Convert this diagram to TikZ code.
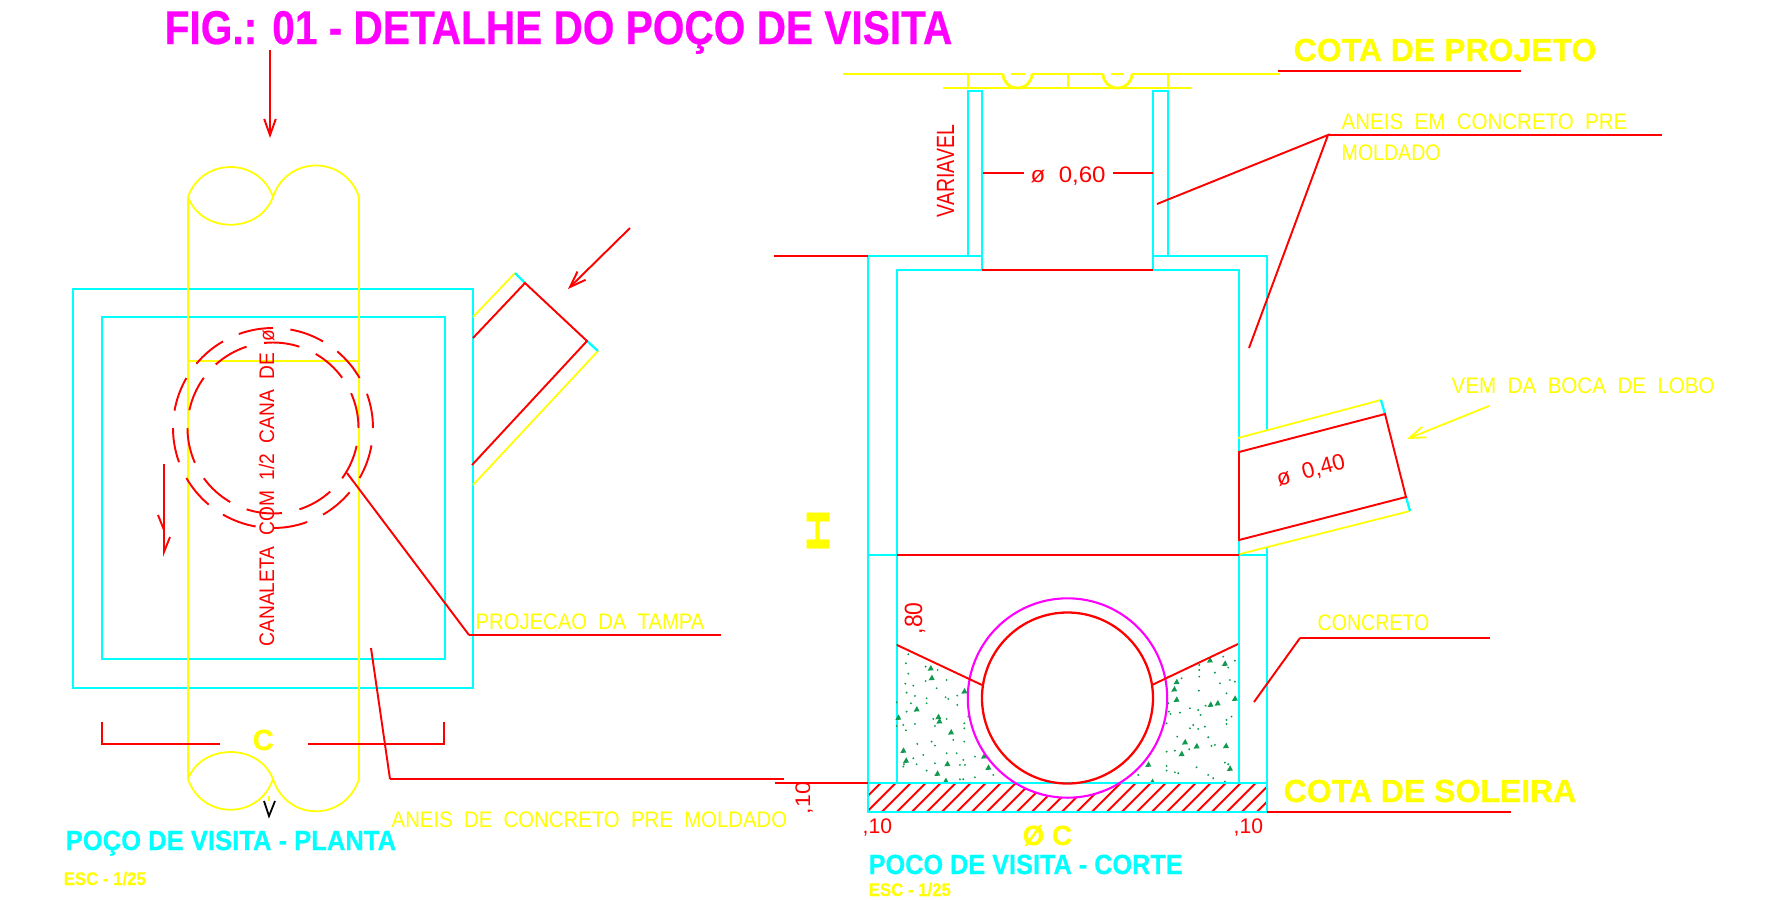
\documentclass[tikz,border=0pt]{standalone}
\usepackage{graphicx}
\usepackage{fontspec}
\setmainfont{Liberation Sans}
\newfontfamily\cadbold[UprightFont=* Bold,FakeBold=0.5]{Liberation Sans}
\usetikzlibrary{arrows.meta}
\definecolor{cadyellow}{HTML}{FFFF00}
\definecolor{cadcyan}{HTML}{00FFFF}
\definecolor{cadred}{HTML}{FF0000}
\definecolor{cadmag}{HTML}{FF00FF}
\definecolor{cadgreen}{HTML}{109A50}
\newcommand{\sq}[2]{\scalebox{#1}[1]{#2}}
\tikzset{
  wall/.style={draw=cadcyan, line width=0.65pt},
  pipe/.style={draw=cadyellow, line width=0.5pt},
  tampa/.style={draw=cadyellow, line width=0.8pt},
  lead/.style={draw=cadred, line width=0.55pt},
  leadb/.style={draw=cadred, line width=0.75pt},
  ring/.style={draw=cadmag, line width=0.6pt},
  barb/.style={-{Straight Barb[length=4.6pt,width=3.3pt]}},
  figtxt/.style={text=cadmag, font=\fontsize{13.5}{13.5}\selectfont\cadbold, inner sep=0pt, anchor=base west},
  cota/.style={text=cadyellow, font=\fontsize{9.1}{9.1}\selectfont\cadbold, inner sep=0pt, anchor=base west},
  legenda/.style={text=cadcyan, font=\fontsize{7.9}{7.9}\selectfont\cadbold, inner sep=0pt, anchor=base west},
  esc/.style={text=cadyellow, font=\fontsize{5.2}{5.2}\selectfont\cadbold, inner sep=0pt, anchor=base west},
  note/.style={text=cadyellow, font=\fontsize{6.4}{6.4}\selectfont, inner sep=0pt, anchor=base west},
  medida/.style={text=cadred, font=\fontsize{6}{6}\selectfont, inner sep=0pt, anchor=base west},
}
\begin{document}
\begin{tikzpicture}[x=0.1mm,y=-0.1mm]
  \useasboundingbox (0,0) rectangle (1775,899);
  \node[figtxt] (figtitle) at (164,44) {\sq{0.856}{FIG.: 01 - DETALHE DO POÇO DE VISITA}};

  % planta
  \draw[wall] (73,289) rectangle (473,688);
  \draw[wall] (102,317) rectangle (445,659);
  \draw[pipe] (188,197) -- (188,779) (359,197) -- (359,779) (188,361) -- (359,361);
  \draw[pipe] (188,197) .. controls (202,157) and (259,157) .. (273,197)
    .. controls (287,155) and (345,155) .. (359,197);
  \draw[pipe] (188,197) .. controls (202,234) and (259,234) .. (273,197);
  \draw[pipe] (188,779) .. controls (202,743) and (259,743) .. (273,779);
  \draw[pipe] (188,779) .. controls (202,820) and (259,820) .. (273,779)
    .. controls (287,822) and (345,822) .. (359,779);
  \coordinate (poco) at (273,428);
  \foreach \a in {0,30,...,330}
    \draw[lead] (poco) ++(-\a:100) arc[start angle=-\a,delta angle=-20,radius=100];
  \foreach \a in {0,36,...,324}
    \draw[lead] (poco) ++(-\a:85.5) arc[start angle=-\a,delta angle=-24,radius=85.5];
  \node[medida,rotate=90] (canaleta) at (274,647) {\sq{0.91}{CANALETA~~COM~~1/2~~CANA~~DE~~ø}};
  \draw[lead,barb] (270,50) -- (270,138);
  \draw[lead,barb] (630,228) -- (568,289);
  \draw[lead] (164,464) -- (164,552) -- (170,537) (158,515) -- (164,530);
  % ramal da planta
  \draw[pipe] (473,317) -- (515,273) (473,485) -- (598,351);
  \draw[wall] (515,273) -- (525,283) (587,341) -- (598,351);
  \draw[lead] (473,338) -- (525,283) -- (587,341) -- (472,465);
  % projecao e aneis
  \draw[lead] (347,473) -- (469,635);
  \draw[leadb] (469,635) -- (721,635);
  \node[note] (tampatxt) at (475,629) {\sq{0.9}{PROJECAO~~DA~~TAMPA}};
  \draw[lead] (371,648) -- (390,779);
  \draw[leadb] (390,779) -- (784,779);
  \node[note] (aneistxt) at (391,827) {\sq{0.905}{ANEIS~~DE~~CONCRETO~~PRE~~MOLDADO}};
  % cota C
  \draw[leadb] (102,722) -- (102,744) -- (220,744) (308,744) -- (444,744) -- (444,722);
  \node[cota,font=\fontsize{8.3}{8.3}\selectfont\cadbold] (cdim) at (252,750) {C};
  \draw[pipe] (269,796) -- (269,801);
  \draw[black,line width=0.5pt] (264,801) -- (269,816) -- (275,801);
  \node[legenda] (capplanta) at (65,850) {\sq{0.922}{POÇO DE VISITA - PLANTA}};
  \node[esc] (escplanta) at (63,885) {\sq{0.92}{ESC - 1/25}};

  % corte
  \draw[wall] (968,256) -- (968,91) -- (982,91) -- (982,270);
  \draw[wall] (1153,270) -- (1153,91) -- (1168,91) -- (1168,256);
  \draw[wall] (1267,430) -- (1267,256) -- (1153,256);
  \draw[wall] (982,256) -- (868,256) -- (868,812);
  \draw[wall] (982,270) -- (897,270) -- (897,783);
  \draw[wall] (1153,270) -- (1239,270) -- (1239,783);
  \draw[wall] (1267,548) -- (1267,812);
  \draw[wall] (868,555) -- (897,555) (1239,555) -- (1267,555);
  \draw[leadb] (982,270) -- (1153,270);
  \draw[leadb] (774,256) -- (868,256);
  \draw[leadb] (897,555) -- (1239,555);
  % tampa
  \draw[tampa] (843,74) -- (1003,74) (1011,74) -- (1025,74) (1032,74) -- (1103,74)
    (1111,74) -- (1124,74) (1132,74) -- (1280,74);
  \draw[tampa] (943,88) -- (1192,88);
  \draw[tampa] (968,74) -- (968,88) (1068,74) -- (1068,88) (1168,74) -- (1168,88);
  \draw[tampa] (1003,74) arc[start angle=180,delta angle=-180,x radius=14.5,y radius=14];
  \draw[tampa] (1103,74) arc[start angle=180,delta angle=-180,x radius=14.5,y radius=14];
  \draw[leadb] (1278,71) -- (1521,71);
  \node[cota] (cotaproj) at (1293,61) {\sq{1.0}{COTA DE PROJETO}};
  % soleira hachurada
  \begin{scope}
    \clip (868,783) rectangle (1267,812);
    \foreach \h in {0,...,27}
      \draw[lead] ({880.7+15*\h},783) -- ({880.7+15*\h-29},812);
  \end{scope}
  \fill[white] (1067.5,698) circle (99.7);
  % concreto
  \begin{scope}[shift={(780,520)},x=0.03333mm,y=-0.03333mm]
    \foreach \gx/\gy in {452/444,455/473,553/513,410/567,355/592,475/590,478/603,513/636,370/691,378/721,502/731,472/760,497/782,625/742,612/708,1290/420,1335/430,1190/485,1183/507,1190/538,1365/535,1313/549,1292/553,1215/666,1250/678,1205/701,1338/677,1350/745,1105/733,1117/785}
      \fill[cadgreen] ({\gx-9},{\gy+8}) -- ({\gx+9},{\gy+7}) -- ({\gx+1},{\gy-9}) -- cycle;
    \foreach \gx/\gy in {352/375,385/403,378/430,437/440,473/450,385/461,437/483,500/480,376/491,400/497,380/518,405/528,470/505,440/535,497/532,505/537,532/527,393/550,440/550,532/555,350/547,380/575,500/597,460/597,465/618,405/612,350/618,370/615,378/631,553/610,553/625,565/590,520/660,553/665,412/672,455/665,465/677,500/700,585/710,530/700,400/715,430/705,410/733,370/740,372/733,465/730,550/720,555/735,540/735,440/752,585/772,540/778,550/778,640/765,460/790,1330/410,1365/422,1258/435,1258/450,1258/470,1305/458,1345/443,1165/470,1205/475,1320/490,1350/480,1365/485,1257/512,1340/520,1165/550,1230/565,1277/557,1200/578,1167/575,1172/582,1255/570,1262/585,1355/590,1340/600,1340/612,1240/615,1230/625,1255/627,1275/620,1160/610,1285/652,1192/650,1160/695,1185/692,1228/688,1295/678,1305/675,1250/742,1335/728,1345/733,1160/738,1160/752,1185/757,1195/760,1285/765,1300/775,1075/765,1335/785,1240/790}
      \fill[cadgreen] (\gx,\gy) circle (3.2);
  \end{scope}
  \draw[wall] (868,783) rectangle (1267,812);
  \draw[ring] (1067.5,698) circle (99.7);
  \draw[lead,line width=0.65pt] (1067.5,698) circle (85.5);
  \draw[lead] (897,645) -- (982,685) (1152,685) -- (1238,644);
  \draw[leadb] (775,783) -- (868,783);
  \draw[leadb] (1267,812) -- (1511,812);
  \node[cota] (cotasol) at (1283,802) {\sq{1.0}{COTA DE SOLEIRA}};
  % ramal do corte
  \draw[pipe] (1238,438) -- (1381,400) (1410,511) -- (1240,554);
  \draw[wall] (1381,400) -- (1385,414) (1406,497) -- (1410,511);
  \draw[lead] (1239,452) -- (1385,414) -- (1406,497) -- (1239,540) -- cycle;
  \node[medida,anchor=center,rotate=15,font=\fontsize{6.4}{6.4}\selectfont] (d40) at (1311,471) {ø~~0,40};
  \draw[pipe,barb] (1489,406) -- (1407,439);
  \node[note] (bocatxt) at (1451,393) {\sq{0.915}{VEM~~DA~~BOCA~~DE~~LOBO}};
  % anotacoes do corte
  \draw[leadb] (1328,135) -- (1662,135);
  \draw[lead] (1157,204) -- (1328,135) -- (1249,348);
  \node[note] (anelpre) at (1341,129) {\sq{0.912}{ANEIS~~EM~~CONCRETO~~PRE}};
  \node[note] (anelmol) at (1341,160) {\sq{0.87}{MOLDADO}};
  \draw[lead] (1254,702) -- (1300,638);
  \draw[leadb] (1300,638) -- (1490,638);
  \node[note] (conctxt) at (1317,630) {\sq{0.87}{CONCRETO}};
  \draw[leadb] (983,173) -- (1024,173) (1113,173) -- (1153,173);
  \node[medida,font=\fontsize{6.4}{6.4}\selectfont] (d60) at (1030,182) {\sq{1.07}{ø~~0,60}};
  \node[medida,rotate=90,font=\fontsize{7.1}{7.1}\selectfont] (varia) at (954,218) {\sq{0.78}{VARIAVEL}};
  \node[text=cadyellow,rotate=90,inner sep=0pt,font=\fontsize{9.3}{9.3}\selectfont\cadbold] (hdim) at (818,530.5) {\scalebox{1.85}[1]{H}};
  \node[medida] (d10a) at (862,833) {,10};
  \node[medida] (d10b) at (1233,833) {,10};
  \node[medida,rotate=90] (d10c) at (810,815) {\sq{1.1}{,10}};
  \node[medida,rotate=90,font=\fontsize{7.1}{7.1}\selectfont] (d80) at (922,635) {\sq{0.92}{,80}};
  \node[cota,font=\fontsize{7.9}{7.9}\selectfont\cadbold] (dc) at (1022,845) {Ø C};
  \node[legenda] (capcorte) at (868,874) {\sq{0.91}{POCO DE VISITA - CORTE}};
  \node[esc] (esccorte) at (868,896) {\sq{0.92}{ESC - 1/25}};
\end{tikzpicture}
\end{document}
